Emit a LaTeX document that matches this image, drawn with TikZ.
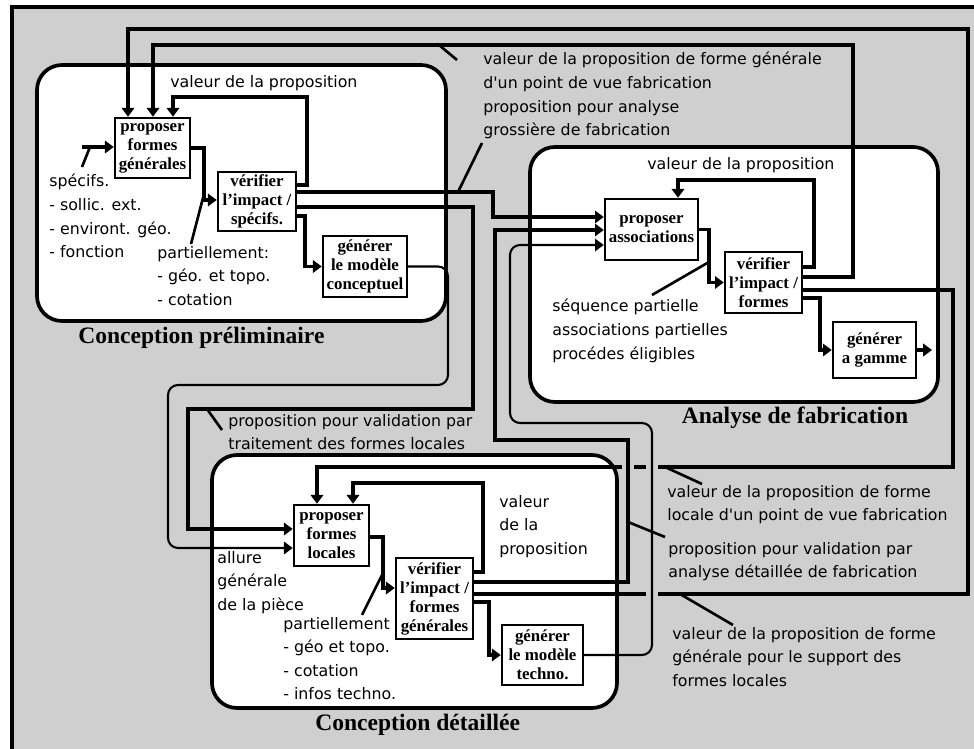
\documentclass[tikz,border=0pt]{standalone}
\usepackage{fontspec}
\setmainfont{Liberation Serif}
\newfontfamily\etiq{DejaVu Sans}
\usetikzlibrary{arrows.meta}
\definecolor{stip}{gray}{0.81}
\begin{document}
\begin{tikzpicture}[x=0.02cm, y=-0.02cm, >={Triangle[length=5pt,width=7pt]},
	frame/.style={line width=1.8pt},
	phase/.style={draw, fill=white, line width=2.1pt, rounded corners=0.5cm},
	task/.style={draw, fill=white, line width=1.4pt, inner sep=1pt, align=center, font=\bfseries\fontsize{9.6}{10.8}\selectfont},
	flow/.style={line width=1.8pt},
	sortie/.style={line width=1.2pt, rounded corners=0.2cm},
	lead/.style={line width=1.5pt},
	lab/.style={inner sep=0pt, align=left, font=\etiq\fontsize{9}{13.4}\selectfont},
	titre/.style={inner sep=0pt, font=\bfseries\fontsize{13.4}{15}\selectfont}]
	\useasboundingbox (0,0) rectangle (974,749);
	\fill[white] (0,0) rectangle (974,749);
	\fill[stip] (12,7) rectangle (974,749);
	\draw[frame] (12,749) -- (12,7) -- (974,7);
	% les trois phases
	\draw[phase] (37,65) rectangle (446,321);
	\draw[phase] (530,147) rectangle (938,402);
	\draw[phase] (212,455) rectangle (617,708);
	\node[titre, anchor=west] (tpre) at (78,338) {Conception préliminaire};
	\node[titre] (tana) at (795,418) {Analyse de fabrication};
	\node[titre, anchor=west] (tdet) at (315,725) {Conception détaillée};
	% tâches
	\node[task, minimum width=1.5cm, minimum height=1.2cm] (pfg) at (152.5,148) {proposer\\formes\\générales};
	\node[task, minimum width=1.56cm, minimum height=1.18cm] (vsp) at (257,201.5) {vérifier\\l'impact /\\spécifs.};
	\node[task, minimum width=1.68cm, minimum height=1.22cm] (gmc) at (365,266.5) {générer\\le modèle\\conceptuel};
	\node[task, minimum width=1.86cm, minimum height=1.22cm] (pas) at (651.5,229.5) {proposer\\associations};
	\node[task, minimum width=1.54cm, minimum height=1.22cm] (vfo) at (763.5,282.5) {vérifier\\l'impact /\\formes};
	\node[task, minimum width=1.66cm, minimum height=1.12cm] (gga) at (874.5,350) {générer\\a gamme};
	\node[task, minimum width=1.5cm, minimum height=1.22cm] (pfl) at (331.5,535.5) {proposer\\formes\\locales};
	\node[task, minimum width=1.54cm, minimum height=1.62cm] (vfg) at (434.5,598.5) {vérifier\\l'impact /\\formes\\générales};
	\node[task, minimum width=1.62cm, minimum height=1.2cm] (gmt) at (542.5,655) {générer\\le modèle\\techno.};
	% conception préliminaire
	\coordinate (spc) at (82,147);
	\draw[flow,->] (spc) -- (pfg.west |- spc);
	\draw[flow,->] (pfg.east) -| (204,200) -- (vsp.west |- 0,200);
	\draw[flow,->] (vsp.east |- 0,185) -| (307,97) -| (pfg.north -| 173,0);
	\draw[flow,->] (vsp.east |- 0,192) -| (493,217) -- (pas.west |- 0,217);
	\draw[flow,->] (vsp.east |- 0,207) -| (473,409) -| (188,529) -- (pfl.west |- 0,529);
	\draw[flow,->] (vsp.east |- 0,216) -| (gmc.west -| 305,0) -- (gmc.west);
	\draw[sortie,->] (gmc.east) -| (448,385) -| (168,548) -- (pfl.west |- 0,548);
	% analyse de fabrication
	\draw[flow,->] (pas.east) -| (709,282.5) -- (vfo.west);
	\draw[flow,->] (vfo.east |- 0,267) -| (814,180) -| (pas.north -| 678,0);
	\draw[flow,->] (vfo.east |- 0,277) -| (853,45) -| (pfg.north -| 153,0);
	\draw[flow,->] (vfo.east |- 0,290) -| (953,467) -| (pfl.north -| 317,0);
	\draw[flow,->] (vfo.east |- 0,298) -| (820,350) -- (gga.west);
	\coordinate (fin) at (932,350);
	\draw[flow,->] (gga.east) -- (fin);
	% conception détaillée
	\draw[flow,->] (pfl.east |- 0,537) -| (383,588) -- (vfg.west |- 0,588);
	\draw[flow,->] (vfg.east |- 0,572) -| (483,483) -| (pfl.north -| 353,0);
	\draw[flow,->] (vfg.east |- 0,594) -| (968,29) -| (pfg.north -| 128,0);
	\draw[flow,->] (vfg.east |- 0,602) -| (489,655) -- (gmt.west);
	\foreach \gx/\gy in {628/467,652/467,652/594}
		\fill[stip] (\gx-6,\gy-3) rectangle (\gx+6,\gy+3);
	\draw[flow,->] (vfg.east |- 0,582) -| (628,440) -| (495,230) -- (pas.west |- 0,230);
	\draw[sortie,->] (gmt.east) -| (652,423) -| (510,245) -- (pas.west |- 0,245);
	% textes
	\node[lab, anchor=west] (lval1) at (170,83) {valeur de la proposition};
	\node[lab, anchor=north west] (lspec) at (49,174) {spécifs.\\- sollic. ext.\\- environt. géo.\\- fonction};
	\node[lab, anchor=north west] (lpar1) at (157,246) {partiellement:\\- géo. et topo.\\- cotation};
	\node[lab, anchor=north west] (ltop) at (483,52) {valeur de la proposition de forme générale\\d'un point de vue fabrication\\proposition pour analyse\\grossière de fabrication};
	\node[lab, anchor=west] (lval2) at (647,165) {valeur de la proposition};
	\node[lab, anchor=north west] (lseq) at (552,299) {séquence partielle\\associations partielles\\procédes éligibles};
	\node[lab, anchor=north west] (ltrait) at (228,414) {proposition pour validation par\\traitement des formes locales};
	\node[lab, anchor=north west] (lall) at (217,551) {allure\\générale\\de la pièce};
	\node[lab, anchor=north west] (lpar2) at (283,617) {partiellement\\- géo et topo.\\- cotation\\- infos techno.};
	\node[lab, anchor=north west] (lval3) at (499,495) {valeur\\de la\\proposition};
	\node[lab, anchor=north west] (lloc) at (667,485) {valeur de la proposition de forme\\locale d'un point de vue fabrication};
	\node[lab, anchor=north west] (lana) at (668,542) {proposition pour validation par\\analyse détaillée de fabrication};
	\node[lab, anchor=north west] (lsup) at (672,627) {valeur de la proposition de forme\\générale pour le support des\\formes locales};
	% traits de rappel
	\draw[lead] (90,147) -- (82,167);
	\draw[lead] (204,194) -- (191,244);
	\draw[lead] (439,45) -- (457,60);
	\draw[lead] (458,192) -- (482,143);
	\draw[lead] (207,409) -- (222,430);
	\draw[lead] (383,573) -- (362,615);
	\draw[lead] (709,262) -- (652,295);
	\draw[lead] (665,467) -- (702,484);
	\draw[lead] (628,522) -- (665,537);
	\draw[lead] (680,594) -- (733,625);
\end{tikzpicture}
\end{document}
